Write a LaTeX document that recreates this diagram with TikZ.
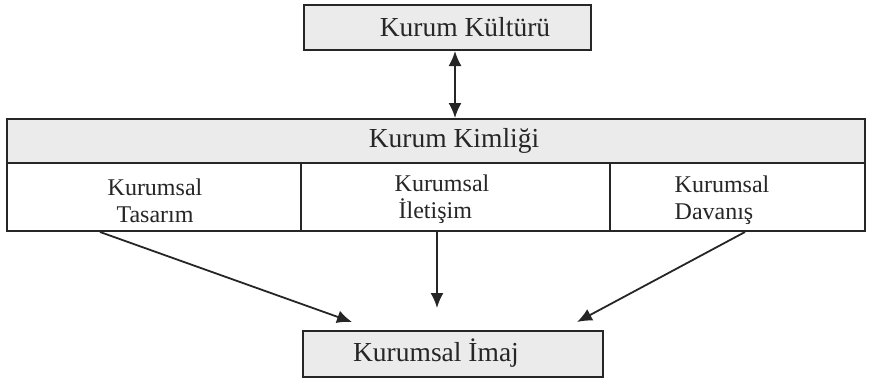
\documentclass[tikz,border=0pt]{standalone}
\usepackage{fontspec}
\setmainfont{Liberation Serif}
\usetikzlibrary{arrows.meta}
\begin{document}
\begin{tikzpicture}[x=1pt,y=-1pt,
  box/.style={draw=black!85,line width=2pt,fill=gray!16,minimum width=#1,inner sep=0pt},
  cell/.style={draw=black!85,line width=2pt,fill=white,inner sep=0pt,minimum height=68pt},
  big/.style={font=\fontsize{27.5}{30}\selectfont,text=black!85,inner sep=0pt},
  small/.style={font=\fontsize{24}{27}\selectfont,text=black!85,inner sep=0pt,align=#1},
  arr/.style={-{Latex[length=15pt,width=13pt]},line width=1.8pt,draw=black!85},
  darr/.style={{Latex[length=15pt,width=13pt]}-{Latex[length=15pt,width=13pt]},line width=1.8pt,draw=black!85}]
\useasboundingbox (0,0) rectangle (873,381);
% top box
\node[box=287pt,minimum height=45pt] (kk) at (447,27.5) {};
\node[big] (kkt) at (465,27) {Kurum Kültürü};
% header
\node[box=858pt,minimum height=44pt] (kim) at (436,141) {};
\node[big] (kimt) at (454,141) {Kurum Kimliği};
% cells
\node[cell,minimum width=294pt] (c1) at (154,197) {};
\node[cell,minimum width=309pt] (c2) at (455.5,197) {};
\node[cell,minimum width=255pt] (c3) at (737.5,197) {};
\node[small=center] (t1) at (155,201) {Kurumsal\\Tasarım};
\node[small=left] (t2) at (442,199) {Kurumsal\\\hspace*{4pt}İletişim};
\node[small=left] (t3) at (722,200) {Kurumsal\\Davanış};
% bottom box
\node[box=300pt,minimum height=46pt] (im) at (453,354) {};
\node[big] (imt) at (436,353) {Kurumsal İmaj};
% connectors
\coordinate (a1) at (455,0);
\coordinate (s1) at (100,232);
\coordinate (s2) at (437,232);
\coordinate (s3) at (745,232);
\coordinate (e1) at (352,322);
\coordinate (e2) at (437,308);
\coordinate (e3) at (577,322);
\draw[darr] (kk.south -| a1) -- (kim.north -| a1);
\draw[arr] (c1.south -| s1) -- (e1);
\draw[arr] (c2.south -| s2) -- (e2);
\draw[arr] (c3.south -| s3) -- (e3);
\end{tikzpicture}
\end{document}
